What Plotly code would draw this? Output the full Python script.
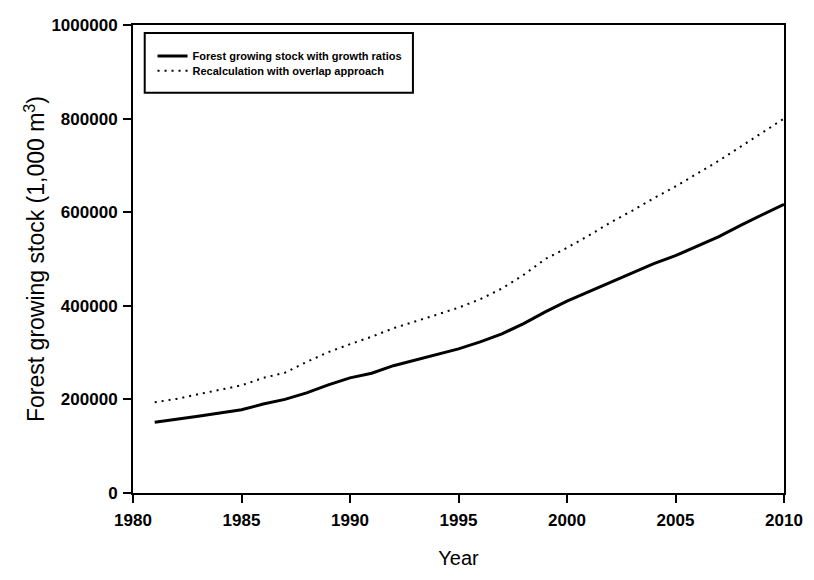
import plotly.graph_objects as go

years = list(range(1981, 2011))
growth_ratios = [151000, 157000, 164000, 171000, 178000, 190000, 200000, 214000, 231000, 246000,
                 256000, 272000, 284000, 295000, 308000, 323000, 340000, 362000, 387000, 410000,
                 430000, 450000, 470000, 490000, 507000, 527000, 548000, 572000, 595000, 617000]
overlap = [194000, 201000, 211000, 220000, 230000, 246000, 257000, 280000, 301000, 318000,
           334000, 352000, 366000, 381000, 396000, 414000, 437000, 466000, 500000, 524000,
           550000, 578000, 603000, 630000, 655000, 682000, 710000, 740000, 770000, 800000]
x_ticks = [1980, 1985, 1990, 1995, 2000, 2005, 2010]
y_ticks = [0, 200000, 400000, 600000, 800000, 1000000]
names = ["Forest growing stock with growth ratios", "Recalculation with overlap approach"]

fig = go.Figure()
fig.add_trace(go.Scatter(x=years, y=growth_ratios, mode="lines", name=names[0],
                         line=dict(color="black", width=3), legend="legend"))
fig.add_trace(go.Scatter(x=years, y=overlap, mode="lines", name=names[1],
                         line=dict(color="black", width=2, dash="2px,5px"), legend="legend2"))

axis_common = dict(showgrid=False, zeroline=False, showline=True, linecolor="black",
                   linewidth=2, mirror=True, ticks="outside", ticklen=8, tickwidth=1.5,
                   tickcolor="black",
                   tickfont=dict(family="Liberation Sans", size=17, color="black", weight="bold"))

fig.update_xaxes(range=[1980, 2010], tickvals=x_ticks, ticktext=[str(v) for v in x_ticks],
                 ticklabelstandoff=3,
                 title=dict(text="Year", font=dict(family="Liberation Sans", size=20, color="black"),
                            standoff=22),
                 **axis_common)
fig.update_yaxes(range=[0, 1000000], tickvals=y_ticks, ticktext=[str(v) for v in y_ticks],
                 ticklabelstandoff=2,
                 title=dict(text="Forest growing stock (1,000 m<sup>3</sup>)",
                            font=dict(family="Liberation Sans", size=23, color="black"),
                            standoff=0),
                 **axis_common)

fig.add_shape(type="rect", xref="paper", yref="paper", x0=0.018, x1=0.43, y0=0.855, y1=0.983,
              line=dict(color="black", width=2), fillcolor="white", layer="below")

legend_common = dict(x=0.03, xanchor="left", yanchor="middle", bgcolor="rgba(0,0,0,0)",
                     borderwidth=0, itemwidth=30,
                     font=dict(family="Liberation Sans", size=11, color="black", weight="bold"))

fig.update_layout(
    width=814, height=580,
    margin=dict(l=133, r=30, t=25, b=87),
    plot_bgcolor="white", paper_bgcolor="white",
    showlegend=True,
    legend=dict(y=0.934, **legend_common),
    legend2=dict(y=0.902, **legend_common),
)

fig.write_html("out.html")
